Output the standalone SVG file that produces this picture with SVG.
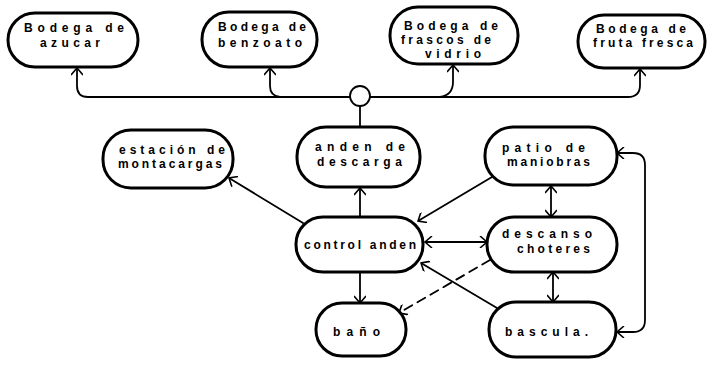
<svg xmlns="http://www.w3.org/2000/svg" width="710" height="368" viewBox="0 0 710 368">
  <style>
    .box { fill: #fff; stroke: #000; stroke-width: 3; }
    .lbl { font-family: "Liberation Sans", Arial, sans-serif; font-size: 12px; font-weight: bold; fill: #000; }
    .con { fill: none; stroke: #000; stroke-width: 1.8; stroke-linecap: round; stroke-linejoin: round; }
    .dash { stroke-dasharray: 9 6; }
  </style>
  <defs>
    <marker id="arr" viewBox="0 0 10 12" refX="10" refY="6" markerWidth="10" markerHeight="12" markerUnits="userSpaceOnUse" orient="auto-start-reverse">
      <path d="M3,0 L10,6 L3,12" fill="none" stroke="#000" stroke-width="1.6"/>
    </marker>
  </defs>
  <rect width="710" height="368" fill="#fff"/>

  <!-- connectors -->
  <g id="connectors">
    <!-- distribution bus to the storage rooms -->
    <path class="con" d="M350,97 H88 Q77,97 77,86 V68" marker-end="url(#arr)"/>
    <path class="con" d="M350,97 H280 Q270,96 270,86 V68" marker-end="url(#arr)"/>
    <path class="con" d="M370,97 H440 Q453,95 453,82 V65" marker-end="url(#arr)"/>
    <path class="con" d="M370,97 H628 Q640,97 640,85 V69" marker-end="url(#arr)"/>
    <path class="con" d="M360,106 V127"/>
    <!-- dock control links -->
    <path class="con" d="M360,217 V188" marker-end="url(#arr)"/>
    <path class="con" d="M303,223 L229,178" marker-end="url(#arr)"/>
    <path class="con" d="M492,177 L418,221" marker-end="url(#arr)"/>
    <path class="con" d="M425,242 H487" marker-start="url(#arr)" marker-end="url(#arr)"/>
    <path class="con" d="M551,186 V217" marker-start="url(#arr)" marker-end="url(#arr)"/>
    <path class="con" d="M553,272 V302" marker-start="url(#arr)" marker-end="url(#arr)"/>
    <path class="con" d="M360,272 V303" marker-end="url(#arr)"/>
    <path class="con dash" d="M490,260 L399,313" marker-end="url(#arr)"/>
    <path class="con" d="M497,308 L421,263" marker-end="url(#arr)"/>
    <path class="con" d="M617,332 H633 Q645,332 645,320 V165 Q645,153 633,153 H617" marker-start="url(#arr)" marker-end="url(#arr)"/>
    <circle cx="360" cy="96" r="10" fill="#fff" stroke="#000" stroke-width="1.8"/>
  </g>

  <!-- storage rooms -->
  <g id="bodega-azucar">
    <rect class="box" x="8" y="13" width="130" height="54" rx="27"/>
    <text class="lbl" x="24" y="32" textLength="100" lengthAdjust="spacing">Bodega de</text>
    <text class="lbl" x="40" y="47" textLength="60" lengthAdjust="spacing">azucar</text>
  </g>
  <g id="bodega-benzoato">
    <rect class="box" x="202" y="12" width="115" height="55" rx="27"/>
    <text class="lbl" x="218" y="31" textLength="88" lengthAdjust="spacing">Bodega de</text>
    <text class="lbl" x="218" y="47" textLength="84" lengthAdjust="spacing">benzoato</text>
  </g>
  <g id="bodega-frascos">
    <rect class="box" x="390" y="7" width="128" height="57" rx="28"/>
    <text class="lbl" x="404" y="30" textLength="94" lengthAdjust="spacing">Bodega de</text>
    <text class="lbl" x="401" y="44" textLength="90" lengthAdjust="spacing">frascos de</text>
    <text class="lbl" x="425" y="58" textLength="56" lengthAdjust="spacing">vidrio</text>
  </g>
  <g id="bodega-fruta">
    <rect class="box" x="578" y="15" width="127" height="53" rx="26"/>
    <text class="lbl" x="596" y="33" textLength="90" lengthAdjust="spacing">Bodega de</text>
    <text class="lbl" x="593" y="47" textLength="100" lengthAdjust="spacing">fruta fresca</text>
  </g>

  <!-- dock area -->
  <g id="estacion-montacargas">
    <rect class="box" x="103" y="130" width="130" height="58" rx="28"/>
    <text class="lbl" x="119" y="154" textLength="106" lengthAdjust="spacing">estación de</text>
    <text class="lbl" x="118" y="168" textLength="104" lengthAdjust="spacing">montacargas</text>
  </g>
  <g id="anden-descarga">
    <rect class="box" x="297" y="127" width="123" height="60" rx="29"/>
    <text class="lbl" x="315" y="151" textLength="90" lengthAdjust="spacing">anden de</text>
    <text class="lbl" x="317" y="166" textLength="85" lengthAdjust="spacing">descarga</text>
  </g>
  <g id="patio-maniobras">
    <rect class="box" x="485" y="127" width="132" height="58" rx="28"/>
    <text class="lbl" x="502" y="152" textLength="83" lengthAdjust="spacing">patio de</text>
    <text class="lbl" x="507" y="166" textLength="83" lengthAdjust="spacing">maniobras</text>
  </g>
  <g id="control-anden">
    <rect class="box" x="296" y="217" width="127" height="55" rx="27"/>
    <text class="lbl" x="304" y="249" textLength="112" lengthAdjust="spacing">control anden</text>
  </g>
  <g id="descanso-choteres">
    <rect class="box" x="487" y="217" width="130" height="55" rx="27"/>
    <text class="lbl" x="502" y="238" textLength="90" lengthAdjust="spacing">descanso</text>
    <text class="lbl" x="517" y="253" textLength="73" lengthAdjust="spacing">choteres</text>
  </g>
  <g id="bano">
    <rect class="box" x="316" y="303" width="90" height="53" rx="26"/>
    <text class="lbl" x="333" y="336" textLength="47" lengthAdjust="spacing">baño</text>
  </g>
  <g id="bascula">
    <rect class="box" x="489" y="302" width="127" height="55" rx="27"/>
    <text class="lbl" x="505" y="336" textLength="83" lengthAdjust="spacing">bascula.</text>
  </g>
</svg>
